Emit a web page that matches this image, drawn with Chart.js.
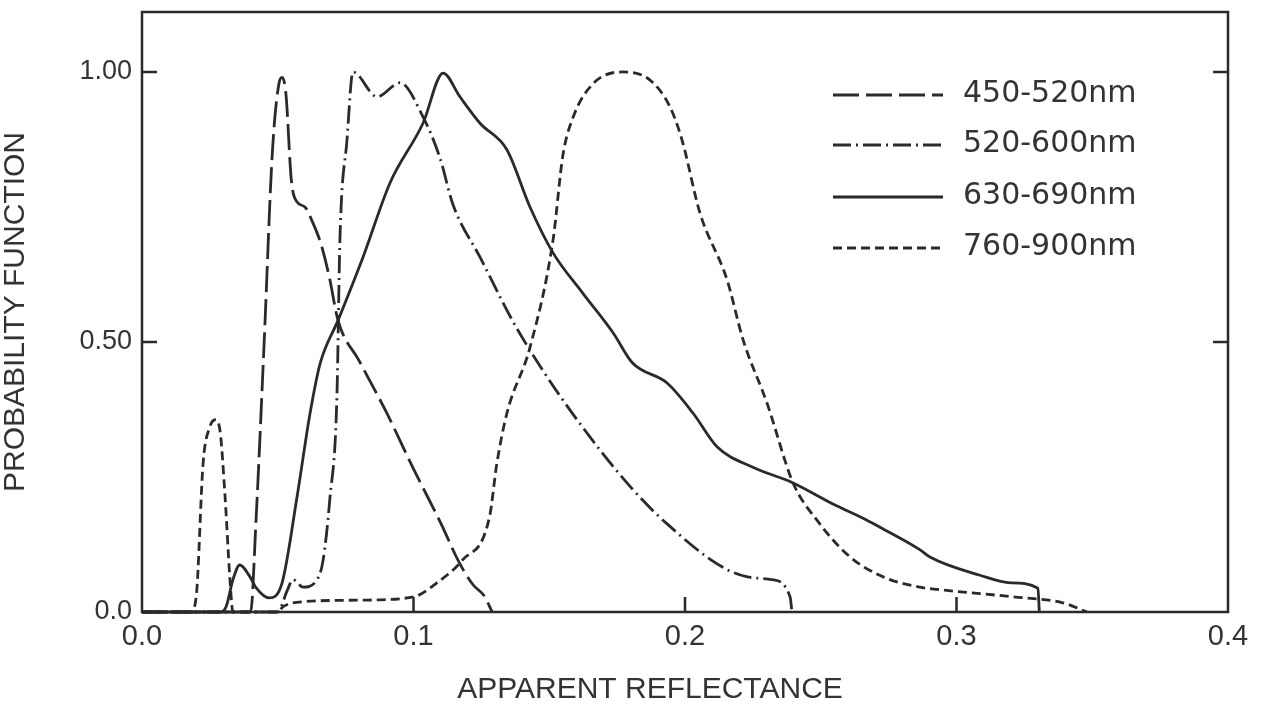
<!DOCTYPE html>
<html>
<head>
<meta charset="utf-8">
<title>Probability function vs apparent reflectance</title>
<script src="https://cdn.jsdelivr.net/npm/chart.js@4"></script>
<style>
  body { margin: 0; background: #fff; }
  #wrap { width: 1262px; height: 709px; position: relative; }
</style>
</head>
<body>
<div id="wrap"><canvas id="reflChart"></canvas></div>
<script>
// series data (x = apparent reflectance, y = probability)
const seriesNames = ['450-520nm', '520-600nm', '630-690nm', '760-900nm'];

const refl450 = [0, 0.040, 0.042, 0.045, 0.048, 0.0505, 0.0516, 0.053, 0.055, 0.057, 0.060, 0.063, 0.066, 0.069, 0.0722, 0.080, 0.090, 0.100, 0.110, 0.117, 0.122, 0.126, 0.129];
const prob450 = [0, 0, 0.17, 0.50, 0.85, 0.98, 0.99, 0.96, 0.80, 0.76, 0.75, 0.72, 0.68, 0.62, 0.54, 0.465, 0.37, 0.265, 0.165, 0.09, 0.05, 0.03, 0];

const refl520 = [0, 0.050, 0.0535, 0.0556, 0.0593, 0.0645, 0.0667, 0.0692, 0.0718, 0.0729, 0.0755, 0.0777, 0.0866, 0.095, 0.1035, 0.1098, 0.1145, 0.1245, 0.139, 0.1687, 0.193, 0.223, 0.232, 0.2387, 0.2394];
const prob520 = [0, 0, 0.04, 0.06, 0.046, 0.06, 0.096, 0.21, 0.40, 0.69, 0.874, 1.0, 0.954, 0.98, 0.917, 0.84, 0.755, 0.657, 0.517, 0.30, 0.165, 0.065, 0.06, 0.028, 0];

const refl630 = [0, 0.029, 0.031, 0.0335, 0.036, 0.0398, 0.042, 0.0468, 0.0516, 0.0571, 0.0619, 0.0656, 0.0722, 0.0814, 0.0913, 0.1035, 0.1109, 0.1171, 0.1245, 0.1344, 0.1429, 0.1514, 0.1624, 0.1735, 0.1807, 0.1934, 0.203, 0.2118, 0.225, 0.2398, 0.2545, 0.267, 0.2718, 0.2866, 0.2902, 0.3087, 0.320, 0.330, 0.3305];
const prob630 = [0, 0, 0.01, 0.06, 0.087, 0.065, 0.045, 0.026, 0.054, 0.213, 0.368, 0.46, 0.54, 0.657, 0.794, 0.905, 0.998, 0.954, 0.905, 0.856, 0.75, 0.665, 0.59, 0.517, 0.461, 0.424, 0.368, 0.306, 0.268, 0.239, 0.20, 0.17, 0.157, 0.115, 0.102, 0.068, 0.054, 0.044, 0];

const refl760 = [0, 0.018, 0.020, 0.0225, 0.025, 0.027, 0.0287, 0.0306, 0.0324, 0.0335, 0.050, 0.052, 0.059, 0.081, 0.100, 0.1086, 0.118, 0.128, 0.1307, 0.1344, 0.1429, 0.1514, 0.155, 0.1587, 0.1661, 0.1771, 0.1871, 0.1945, 0.1989, 0.2055, 0.2155, 0.2214, 0.2302, 0.2398, 0.2486, 0.2608, 0.273, 0.2866, 0.2965, 0.321, 0.3392, 0.348];
const prob760 = [0, 0, 0.03, 0.275, 0.343, 0.356, 0.337, 0.213, 0.06, 0, 0, 0.01, 0.019, 0.022, 0.028, 0.054, 0.096, 0.176, 0.275, 0.368, 0.49, 0.689, 0.845, 0.915, 0.978, 1.0, 0.985, 0.935, 0.874, 0.739, 0.615, 0.504, 0.387, 0.239, 0.17, 0.102, 0.065, 0.046, 0.04, 0.028, 0.017, 0];

const xTickValues = [0, 0.1, 0.2, 0.3, 0.4];
const xTickLabels = ['0.0', '0.1', '0.2', '0.3', '0.4'];
const yTickValues = [0, 0.5, 1.0];
const yTickLabels = ['0.0', '0.50', '1.00'];

const ink = '#2a2a2a';

function pts(xs, ys) {
  return xs.map((x, i) => ({ x: x, y: ys[i] }));
}

function line(label, xs, ys, dash) {
  return {
    label: label,
    data: pts(xs, ys),
    borderColor: ink,
    borderWidth: 2.8,
    borderDash: dash,
    pointRadius: 0,
    fill: false,
    cubicInterpolationMode: 'monotone',
    clip: false
  };
}

// frame, inward tick marks and the x title (which sits left of centre)
const framePlugin = {
  id: 'frame',
  afterDraw(chart) {
    const { ctx, chartArea: a, scales: { x, y } } = chart;
    ctx.save();
    ctx.strokeStyle = ink;
    ctx.lineWidth = 2.5;
    ctx.setLineDash([]);
    ctx.strokeRect(a.left, a.top, a.right - a.left, a.bottom - a.top);
    ctx.beginPath();
    yTickValues.forEach(v => {
      if (v === 0) return;
      const py = y.getPixelForValue(v);
      ctx.moveTo(a.left, py); ctx.lineTo(a.left + 15, py);
      ctx.moveTo(a.right, py); ctx.lineTo(a.right - 15, py);
    });
    xTickValues.forEach(v => {
      if (v === 0 || v === 0.4) return;
      const px = x.getPixelForValue(v);
      ctx.moveTo(px, a.bottom); ctx.lineTo(px, a.bottom - 15);
    });
    ctx.stroke();

    ctx.fillStyle = '#333';
    ctx.font = '30px "Liberation Sans", Arial, sans-serif';
    ctx.textAlign = 'center';
    ctx.textBaseline = 'middle';
    ctx.fillText('APPARENT REFLECTANCE', 650, 690);
    ctx.restore();
  }
};

// legend drawn inside the plot, top right
const insideLegend = {
  id: 'insideLegend',
  afterDatasetsDraw(chart) {
    const { ctx } = chart;
    const rowY = [95, 145, 197, 248];
    ctx.save();
    chart.data.datasets.forEach((ds, i) => {
      ctx.strokeStyle = ink;
      ctx.lineWidth = 2.8;
      ctx.setLineDash(ds.borderDash || []);
      ctx.beginPath();
      ctx.moveTo(833, rowY[i]);
      ctx.lineTo(943, rowY[i]);
      ctx.stroke();
      ctx.setLineDash([]);
      ctx.fillStyle = '#333';
      ctx.font = '30px "DejaVu Sans", sans-serif';
      ctx.textBaseline = 'middle';
      ctx.textAlign = 'left';
      ctx.fillText(ds.label, 963, rowY[i] - 1);
    });
    ctx.restore();
  }
};

new Chart(document.getElementById('reflChart'), {
  type: 'line',
  data: {
    datasets: [
      line(seriesNames[0], refl450, prob450, [26, 7]),
      line(seriesNames[1], refl520, prob520, [18, 5, 2, 5]),
      line(seriesNames[2], refl630, prob630, []),
      line(seriesNames[3], refl760, prob760, [9, 5])
    ]
  },
  options: {
    responsive: true,
    maintainAspectRatio: false,
    animation: false,
    layout: { padding: { top: 12, right: 34, left: 0, bottom: 0 } },
    plugins: {
      legend: { display: false },
      tooltip: { enabled: false }
    },
    scales: {
      x: {
        type: 'linear',
        min: 0,
        max: 0.4,
        grid: { display: false, drawTicks: false },
        border: { display: false },
        afterBuildTicks: s => { s.ticks = xTickValues.map(v => ({ value: v })); },
        afterFit: s => { s.height = 97; s.paddingLeft = 0; s.paddingRight = 0; },
        ticks: {
          autoSkip: false,
          maxRotation: 0,
          padding: 8,
          color: '#333',
          font: { family: '"Liberation Sans", Arial, sans-serif', size: 29 },
          callback: (v, i) => xTickLabels[i]
        }
      },
      y: {
        type: 'linear',
        min: 0,
        max: 1.111,
        grid: { display: false, drawTicks: false },
        border: { display: false },
        afterBuildTicks: s => { s.ticks = yTickValues.map(v => ({ value: v })); },
        afterFit: s => { s.width = 142; s.paddingTop = 0; s.paddingBottom = 0; },
        ticks: {
          autoSkip: false,
          padding: 10,
          color: '#333',
          font: { family: '"Liberation Sans", Arial, sans-serif', size: 27 },
          callback: (v, i) => yTickLabels[i]
        },
        title: {
          display: true,
          text: 'PROBABILITY FUNCTION',
          color: '#333',
          font: { family: '"Liberation Sans", Arial, sans-serif', size: 30, lineHeight: 1 },
          padding: { top: 1, bottom: 0 }
        }
      }
    }
  },
  plugins: [framePlugin, insideLegend]
});
</script>
</body>
</html>
